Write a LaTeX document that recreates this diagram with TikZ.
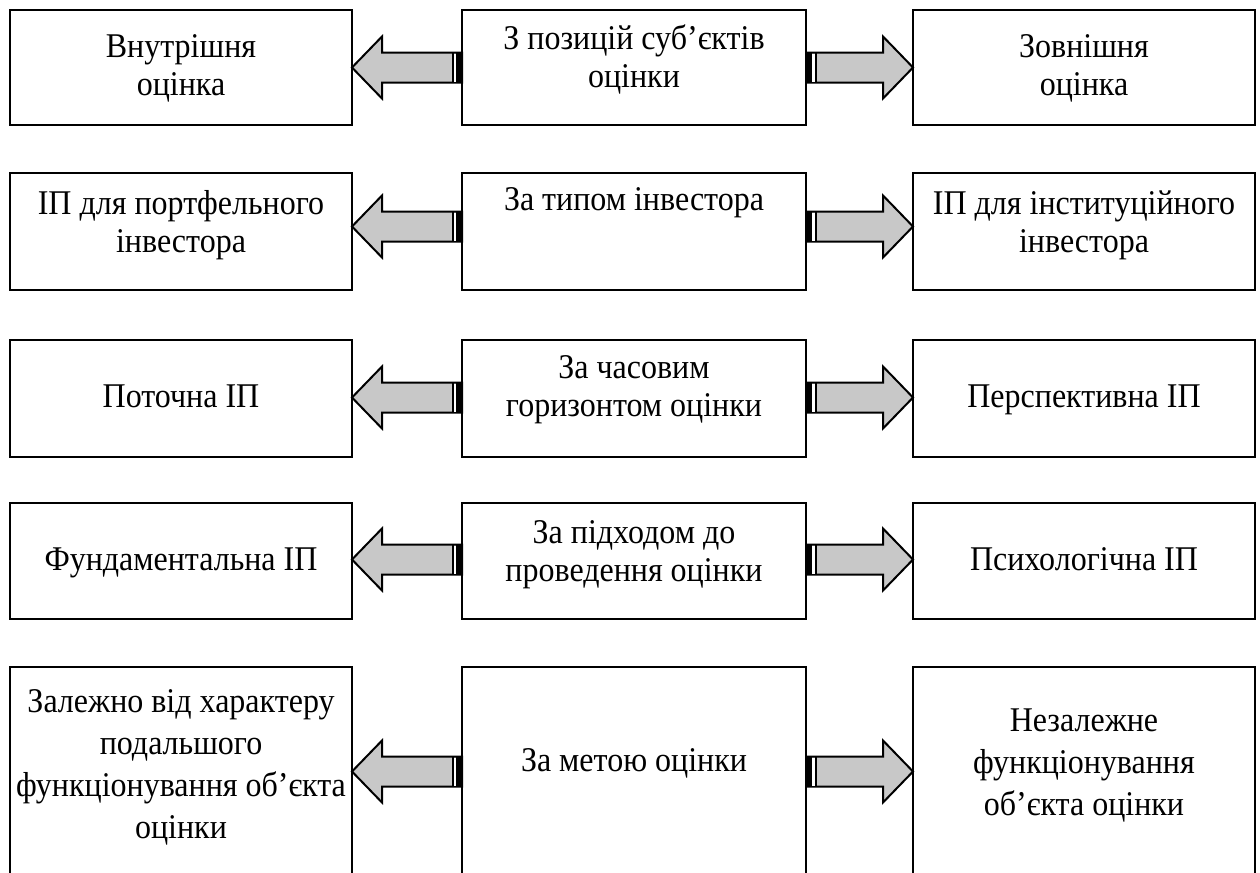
\documentclass[tikz,border=0pt]{standalone}
\usepackage{fontspec}
\setmainfont{Liberation Serif}
\newfontfamily\boxfont[FakeStretch=0.923]{Liberation Serif}
\usetikzlibrary{calc}
\definecolor{arrgray}{RGB}{200,200,200}
\newcommand{\sT}{\rule{0pt}{19.5pt}}
\newcommand{\sB}{\rule[-7.5pt]{0pt}{7.5pt}}
\tikzset{
  box/.style={draw, line width=1pt, outer sep=0pt, inner sep=0pt},
  txt/.style={inner sep=0pt, outer sep=0pt, align=center, font=\boxfont\fontsize{26}{28.5}\selectfont},
  txtwide/.style={txt, font=\boxfont\fontsize{26}{31.5}\selectfont},
  arr/.style={fill=arrgray, draw=black, line width=1.5pt, line join=miter},
}
% left-pointing arrow: tail at #1.west, tip at #2.east, vertical offset #3 (px)
\newcommand{\larr}[3]{%
  \filldraw[arr] ($(#1.west)+(0,#3-15)$) -- ($(#2.east)+(30,#3-15)$) -- ($(#2.east)+(30,#3-31)$)
    -- ($(#2.east)+(0,#3)$) -- ($(#2.east)+(30,#3+31)$) -- ($(#2.east)+(30,#3+15)$)
    -- ($(#1.west)+(0,#3+15)$) -- cycle;
  \fill ($(#1.west)+(-6,#3-15)$) rectangle ($(#1.west)+(0,#3+15)$);
  \fill[white] ($(#1.west)+(-6,#3-14)$) rectangle ($(#1.west)+(-8.5,#3+14)$);
  \fill ($(#1.west)+(-8.5,#3-15)$) rectangle ($(#1.west)+(-10.5,#3+15)$);
}
% right-pointing arrow: tail at #1.east, tip at #2.west
\newcommand{\rarr}[3]{%
  \filldraw[arr] ($(#1.east)+(0,#3-15)$) -- ($(#2.west)+(-30,#3-15)$) -- ($(#2.west)+(-30,#3-31)$)
    -- ($(#2.west)+(0,#3)$) -- ($(#2.west)+(-30,#3+31)$) -- ($(#2.west)+(-30,#3+15)$)
    -- ($(#1.east)+(0,#3+15)$) -- cycle;
  \fill ($(#1.east)+(6,#3-15)$) rectangle ($(#1.east)+(0,#3+15)$);
  \fill[white] ($(#1.east)+(6,#3-14)$) rectangle ($(#1.east)+(8.5,#3+14)$);
  \fill ($(#1.east)+(8.5,#3-15)$) rectangle ($(#1.east)+(10.5,#3+15)$);
}
\begin{document}
\begin{tikzpicture}[x=0.75pt,y=-0.75pt]
\useasboundingbox (0,0) rectangle (1260,872);
\clip (0,0) rectangle (1260,872);
\fill[white] (0,0) rectangle (1260,872);

% row 1
\node[box, minimum width=256.5pt, minimum height=86.25pt] (L1) at (181,67.5) {};
\node[box, minimum width=258pt,   minimum height=86.25pt] (C1) at (634,67.5) {};
\node[box, minimum width=256.5pt, minimum height=86.25pt] (R1) at (1084,67.5) {};
\node[txt] (L1t) at (181,68.5) {\sT Внутрішня\\оцінка\sB};
\node[txt] (C1t) at (634,60) {\sT З позицій суб’єктів\\оцінки\sB};
\node[txt] (R1t) at (1084,68.5) {\sT Зовнішня\\оцінка\sB};

% row 2
\node[box, minimum width=256.5pt, minimum height=87.75pt] (L2) at (181,231.5) {};
\node[box, minimum width=258pt,   minimum height=87.75pt] (C2) at (634,231.5) {};
\node[box, minimum width=256.5pt, minimum height=87.75pt] (R2) at (1084,231.5) {};
\node[txt] (L2t) at (181,225.5) {\sT ІП для портфельного\\інвестора\sB};
\node[txt] (C2t) at (634,202) {\sT За типом інвестора\sB};
\node[txt] (R2t) at (1084,225.5) {\sT ІП для інституційного\\інвестора\sB};

% row 3
\node[box, minimum width=256.5pt, minimum height=87.75pt] (L3) at (181,398.5) {};
\node[box, minimum width=258pt,   minimum height=87.75pt] (C3) at (634,398.5) {};
\node[box, minimum width=256.5pt, minimum height=87.75pt] (R3) at (1084,398.5) {};
\node[txt] (L3t) at (181,399) {\sT Поточна ІП\sB};
\node[txt] (C3t) at (634,389) {\sT За часовим\\горизонтом оцінки\sB};
\node[txt] (R3t) at (1084,399) {\sT Перспективна ІП\sB};

% row 4
\node[box, minimum width=256.5pt, minimum height=87pt] (L4) at (181,561) {};
\node[box, minimum width=258pt,   minimum height=87pt] (C4) at (634,561) {};
\node[box, minimum width=256.5pt, minimum height=87pt] (R4) at (1084,561) {};
\node[txt] (L4t) at (181,562) {\sT Фундаментальна ІП\sB};
\node[txt] (C4t) at (634,554.5) {\sT За підходом до\\проведення оцінки\sB};
\node[txt] (R4t) at (1084,562) {\sT Психологічна ІП\sB};

% row 5
\node[box, minimum width=256.5pt, minimum height=159.75pt] (L5) at (181,773.5) {};
\node[box, minimum width=258pt,   minimum height=159.75pt] (C5) at (634,773.5) {};
\node[box, minimum width=256.5pt, minimum height=159.75pt] (R5) at (1084,773.5) {};
\node[txtwide] (L5t) at (181,767) {\sT Залежно від характеру\\подальшого\\функціонування об’єкта\\оцінки\sB};
\node[txt] (C5t) at (634,763) {\sT За метою оцінки\sB};
\node[txtwide] (R5t) at (1084,765) {\sT Незалежне\\функціонування\\об’єкта оцінки\sB};

% arrows
\larr{C1}{L1}{0}   \rarr{C1}{R1}{0}
\larr{C2}{L2}{-5}  \rarr{C2}{R2}{-5}
\larr{C3}{L3}{-1}  \rarr{C3}{R3}{-1}
\larr{C4}{L4}{-1.5}\rarr{C4}{R4}{-1.5}
\larr{C5}{L5}{-2}  \rarr{C5}{R5}{-2}
\end{tikzpicture}
\end{document}
